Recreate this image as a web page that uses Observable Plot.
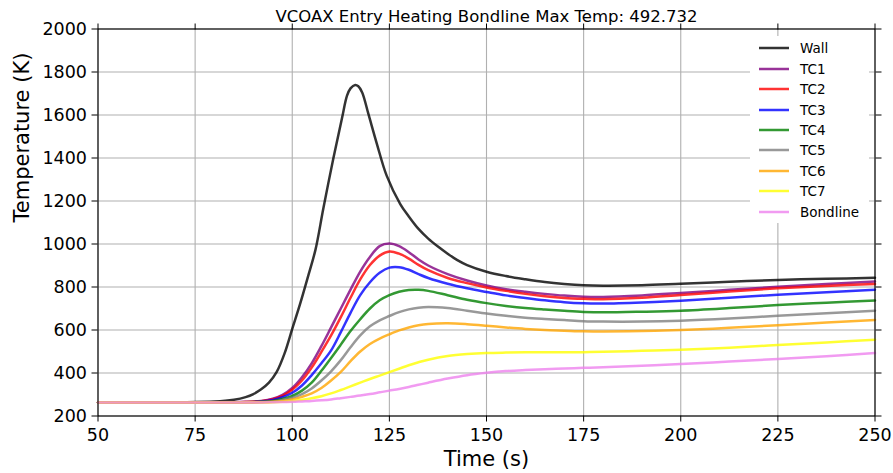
<!DOCTYPE html>
<html><head><meta charset="utf-8">
<script src="https://cdn.jsdelivr.net/npm/d3@7"></script>
<script src="https://cdn.jsdelivr.net/npm/@observablehq/plot@0.6"></script>
<style>
body{margin:0;background:#fff;font-family:"DejaVu Sans",sans-serif;}
#wrap{position:relative;width:893px;height:473px;overflow:hidden;}
#legend{position:absolute;left:750px;top:36px;width:119px;height:187px;background:#fff;}
.row{position:absolute;left:0;height:20px;display:flex;align-items:center;font-size:13.5px;color:#000;white-space:nowrap;}
.row svg{margin-left:9px;margin-right:11px;}
</style></head><body><div id="wrap"></div>
<script>
const title = "VCOAX Entry Heating Bondline Max Temp: 492.732";
const xLabel = "Time (s)";
const yLabel = "Temperature (K)";
const xTicks = [50, 75, 100, 125, 150, 175, 200, 225, 250];
const yTicks = [200, 400, 600, 800, 1000, 1200, 1400, 1600, 1800, 2000];

const seriesNames = ["Wall", "TC1", "TC2", "TC3", "TC4", "TC5", "TC6", "TC7", "Bondline"];
const seriesColors = ["black", "purple", "red", "blue", "green", "gray", "orange", "yellow", "violet"];

const wallTime = [50, 70, 80, 85, 88, 90, 92, 94, 96, 98, 100, 102, 104, 106, 108, 110.6, 112.8, 114.1, 115, 116.2, 117, 118, 119.6, 121.8, 124.3, 127.8, 130, 132.5, 135, 137.5, 140, 142.5, 145, 150, 155, 160, 165, 170, 175, 180, 190, 200, 212.5, 225, 237.5, 250];
const wallTemp = [263, 264, 267, 276, 288, 302, 324, 355, 405, 490, 605, 720, 845, 975, 1165, 1400, 1585, 1690, 1724, 1740, 1734, 1705, 1605, 1465, 1318, 1186, 1128, 1070, 1025, 988, 955, 925, 902, 871, 851, 836, 823, 814, 808, 806, 808, 815, 824, 833, 838, 843];

const tcTime = [50, 80, 88, 92, 95, 97.5, 100, 102.5, 105, 107.5, 110, 112.5, 115, 117.5, 120, 122.5, 125, 127.5, 130, 132.5, 135, 140, 145, 150, 155, 160, 165, 170, 175, 180, 190, 200, 212.5, 225, 237.5, 250];
const tc1 = [263, 263, 266, 270, 280, 298, 330, 380, 445, 525, 612, 700, 788, 872, 940, 990, 1002, 990, 962, 928, 900, 860, 830, 807, 790, 778, 768, 760, 755, 754, 761, 772, 787, 801, 814, 826];
const tc2 = [263, 263, 265, 269, 278, 294, 322, 365, 425, 498, 575, 660, 750, 835, 902, 946, 965, 955, 932, 903, 878, 842, 818, 798, 782, 768, 757, 749, 745, 743, 750, 763, 779, 794, 805, 814];
const tc3 = [263, 263, 264, 267, 274, 287, 308, 342, 390, 445, 505, 590, 680, 762, 822, 866, 890, 892, 880, 860, 842, 815, 794, 777, 761, 749, 738, 729, 724, 723, 728, 736, 750, 764, 776, 787];
const tc4 = [263, 263, 264, 266, 270, 279, 293, 318, 355, 410, 470, 532, 595, 650, 700, 738, 762, 778, 786, 787, 782, 762, 741, 725, 712, 702, 695, 689, 684, 682, 685, 690, 702, 716, 727, 737];
const tc5 = [263, 263, 264, 265, 268, 275, 285, 302, 328, 365, 408, 460, 520, 575, 617, 645, 665, 683, 696, 704, 707, 702, 690, 677, 666, 657, 651, 646, 641, 639, 639, 643, 653, 666, 678, 690];
const tc6 = [263, 263, 263, 264, 266, 270, 277, 289, 305, 330, 365, 405, 455, 500, 535, 560, 580, 598, 612, 622, 628, 631, 627, 620, 612, 605, 600, 597, 594, 593, 595, 600, 610, 622, 635, 647];
const tc7 = [263, 263, 263, 263, 264, 266, 270, 276, 283, 292, 305, 321, 338, 355, 372, 388, 404, 420, 436, 450, 462, 479, 488, 493, 495, 496, 496, 496, 497, 499, 503, 508, 518, 530, 542, 555];
const bondline = [263, 263, 263, 263, 264, 265, 266, 268, 270, 273, 277, 283, 289, 295, 302, 310, 318, 326, 335, 345, 355, 374, 390, 401, 409, 414, 418, 421, 424, 427, 434, 442, 453, 465, 478, 492.7];

const rows = [];
wallTime.forEach((t, i) => rows.push({series: "Wall", time: t, temp: wallTemp[i]}));
[tc1, tc2, tc3, tc4, tc5, tc6, tc7, bondline].forEach((arr, k) => {
  arr.forEach((v, i) => rows.push({series: seriesNames[k + 1], time: tcTime[i], temp: v}));
});

const chart = Plot.plot({
  width: 893,
  height: 473,
  marginTop: 28.5,
  marginBottom: 57.5,
  marginLeft: 97.5,
  marginRight: 18.5,
  style: {fontFamily: "DejaVu Sans", fontSize: "17.5px", color: "black", background: "white", overflow: "visible"},
  x: {domain: [50, 250]},
  y: {domain: [200, 2000]},
  color: {domain: seriesNames, range: seriesColors},
  marks: [
    Plot.gridX(xTicks, {stroke: "#b0b0b0", strokeOpacity: 1, strokeWidth: 1.1}),
    Plot.gridY(yTicks, {stroke: "#b0b0b0", strokeOpacity: 1, strokeWidth: 1.1}),
    Plot.line(rows, {x: "time", y: "temp", z: "series", stroke: "series", strokeWidth: 2.5, strokeOpacity: 0.8, curve: "catmull-rom"}),
    Plot.frame({stroke: "black", strokeWidth: 1.1}),
    Plot.axisX(xTicks, {anchor: "bottom", tickSize: 6, tickPadding: 7, label: null, tickFormat: d => String(d)}),
    Plot.axisX(xTicks, {anchor: "top", tickSize: 6, tickFormat: () => "", label: null}),
    Plot.axisY(yTicks, {anchor: "left", tickSize: 6, tickPadding: 5, label: null, tickFormat: d => String(d)}),
    Plot.axisY(yTicks, {anchor: "right", tickSize: 6, tickFormat: () => "", label: null}),
    Plot.text([xLabel], {frameAnchor: "bottom", lineAnchor: "middle", dy: 43, fontSize: 21, text: d => d}),
    Plot.text([yLabel], {frameAnchor: "left", lineAnchor: "middle", dx: -76, rotate: -90, fontSize: 21, text: d => d}),
    Plot.text([title], {frameAnchor: "top", lineAnchor: "middle", dy: -12.5, fontSize: 16.5, text: d => d})
  ]
});
const wrap = document.getElementById("wrap");
wrap.appendChild(chart);

const legend = document.createElement("div");
legend.id = "legend";
seriesNames.forEach((name, i) => {
  const row = document.createElement("div");
  row.className = "row";
  const cy = 48.3 + 20.4 * i - 36;
  row.style.top = (cy - 10) + "px";
  const color = seriesColors[i];
  row.innerHTML = `<svg width="30" height="6"><line x1="0" x2="30" y1="3" y2="3" stroke="${color}" stroke-opacity="0.8" stroke-width="2.5"/></svg><span>${name}</span>`;
  legend.appendChild(row);
});
wrap.appendChild(legend);
</script>
</body></html>
